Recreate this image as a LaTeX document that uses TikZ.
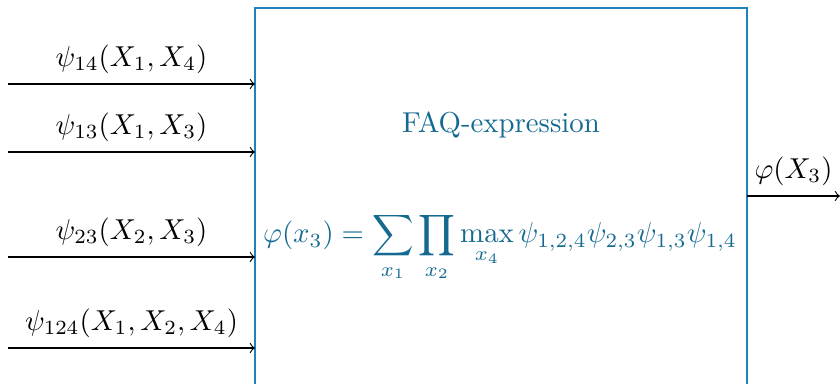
\documentclass[tikz,border=0pt]{standalone}
\usepackage{amsmath}
\usepackage{amssymb}
\usepackage{xcolor}
\definecolor{faqline}{RGB}{30,130,190}
\definecolor{faqtext}{RGB}{20,105,145}

\begin{document}
\begin{tikzpicture}[x=0.0122cm,y=-0.0122cm]
    \useasboundingbox (0,0) rectangle (840,384);
    \clip (0,0) rectangle (840,384);
    \coordinate (B1) at (255,8);
    \coordinate (B2) at (747,400);
    \draw [faqline,semithick] (B1) rectangle (B2);
    \node[faqtext,anchor=base] (T) at (501,133) {FAQ-expression};
    \node[faqtext,anchor=base] (E) at (500,243) {$\displaystyle \varphi(x_3)=\sum_{x_1}\prod_{x_2}\max_{x_4}\psi_{1,2,4}\psi_{2,3}\psi_{1,3}\psi_{1,4}$};
    \coordinate (I1) at (8,84);
    \coordinate (I2) at (8,152);
    \coordinate (I3) at (8,257);
    \coordinate (I4) at (8,348);
    \draw [->] (I1)--(I1 -| B1) node[midway,above]{$\psi_{14}(X_1,X_4)$};
    \draw [->] (I2)--(I2 -| B1) node[midway,above]{$\psi_{13}(X_1,X_3)$};
    \draw [->] (I3)--(I3 -| B1) node[midway,above]{$\psi_{23}(X_2,X_3)$};
    \draw [->] (I4)--(I4 -| B1) node[midway,above]{$\psi_{124}(X_1,X_2,X_4)$};
    \coordinate (O) at (840,196);
    \draw [->] (O -| B2)--(O) node[midway,above]{$\varphi(X_3)$};
\end{tikzpicture}
\end{document}
